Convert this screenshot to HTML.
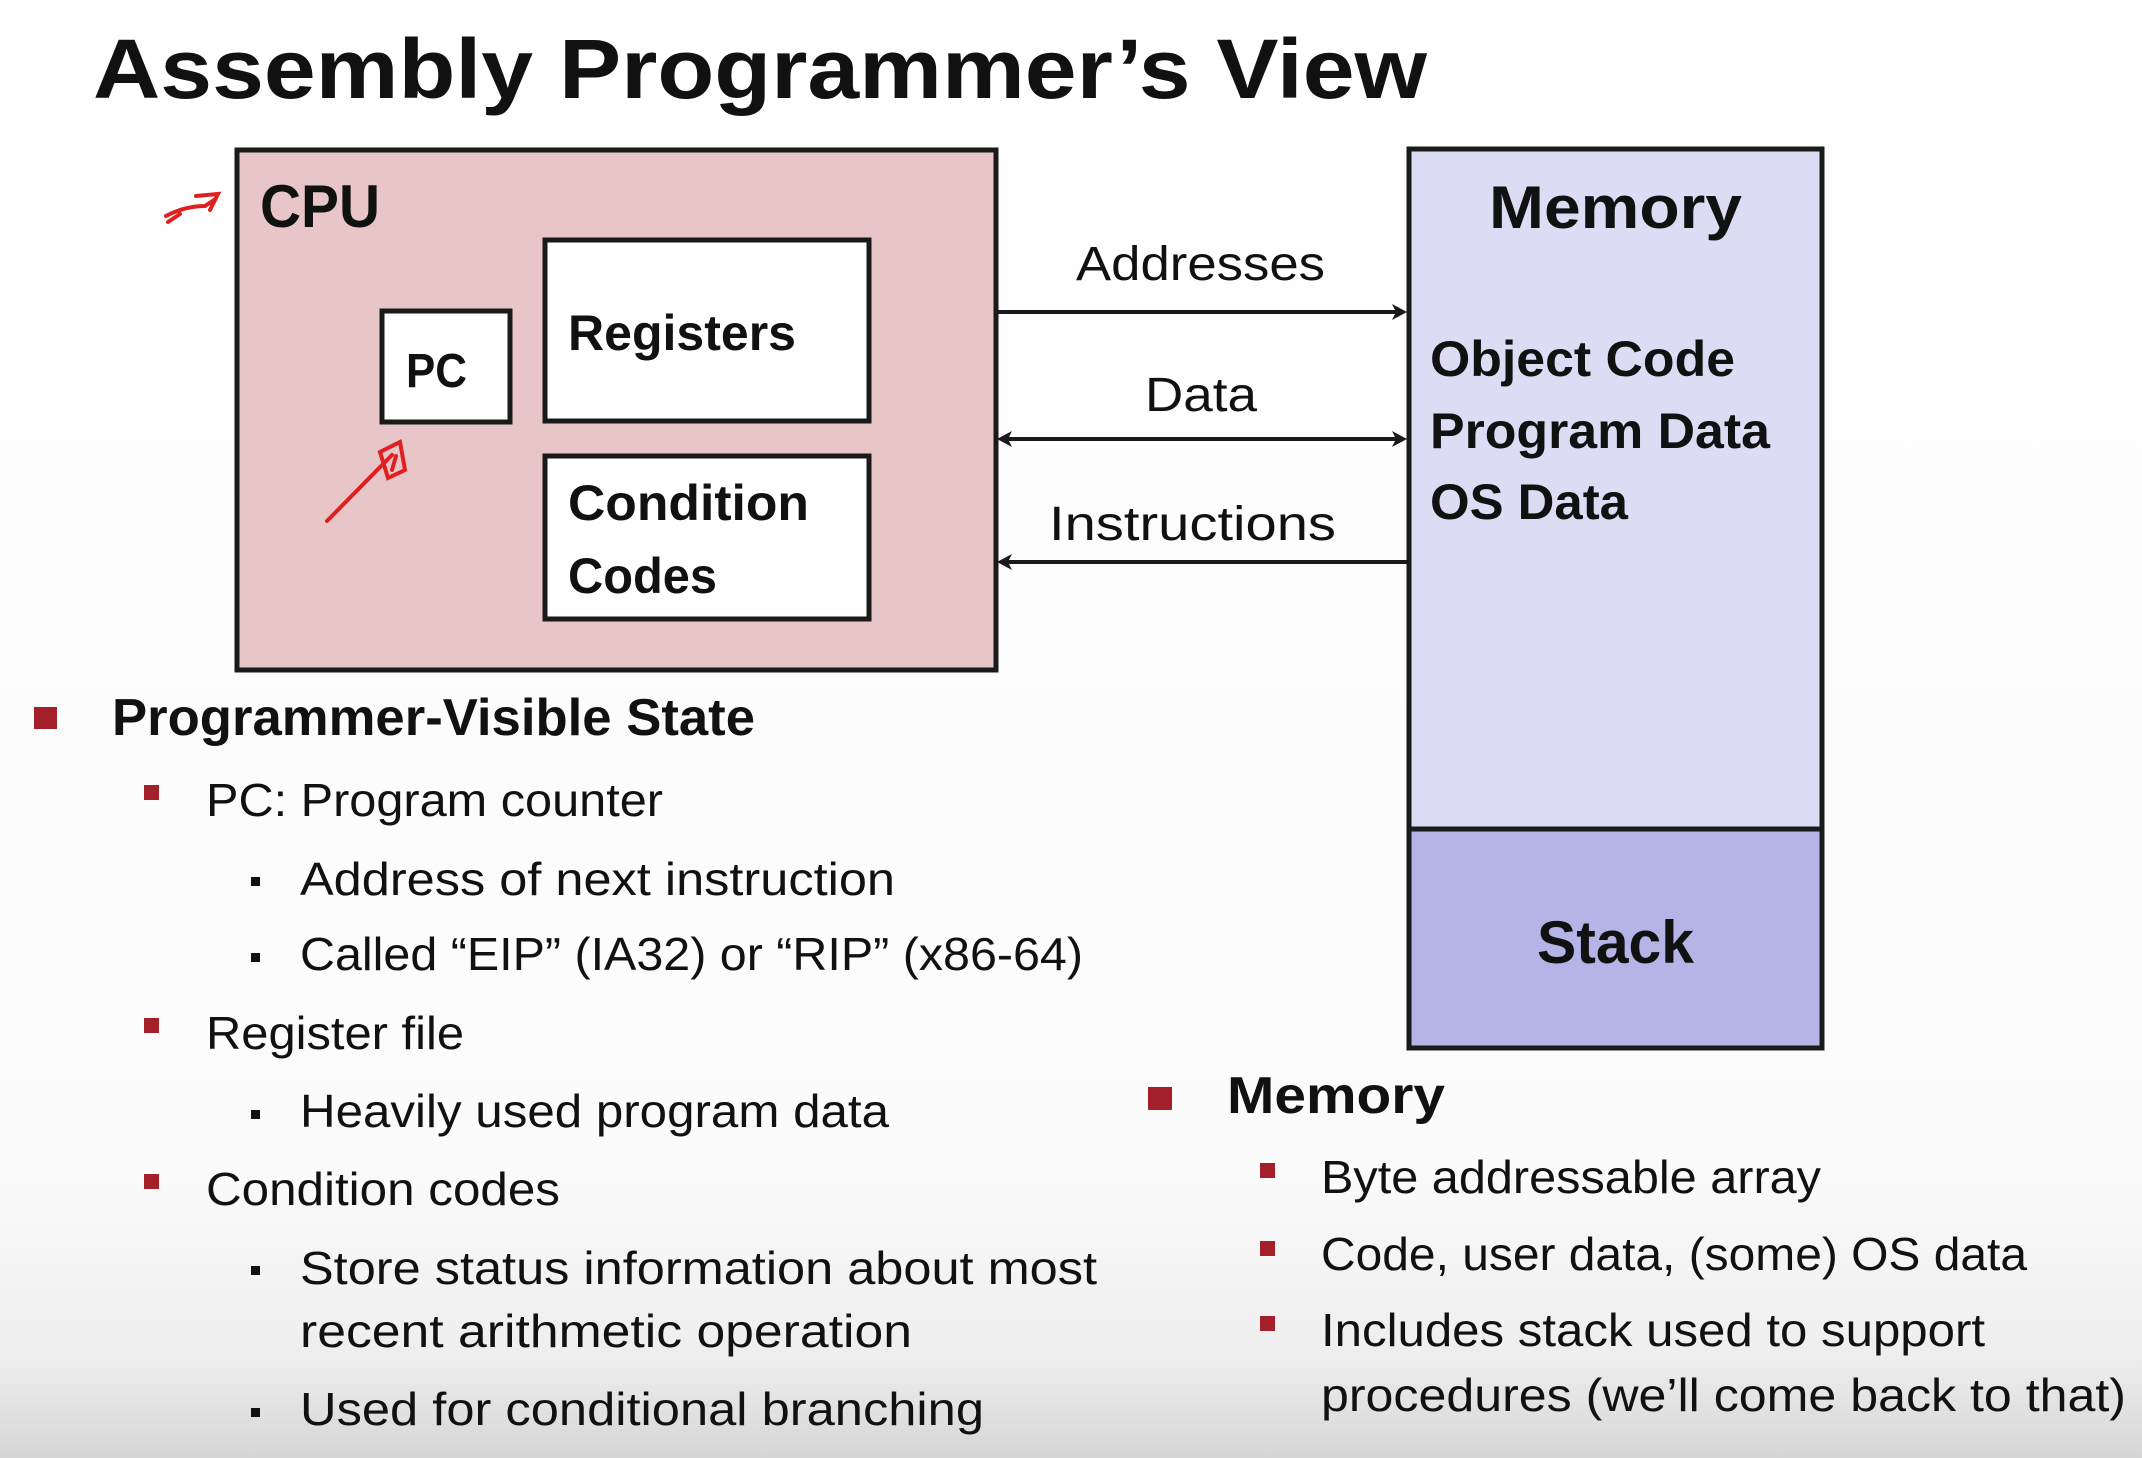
<!DOCTYPE html>
<html><head><meta charset="utf-8"><style>
html,body{margin:0;padding:0;width:2142px;height:1458px;overflow:hidden}
svg{display:block}
text{font-family:"Liberation Sans",sans-serif;fill:#111}
</style></head><body>
<svg width="2142" height="1458" viewBox="0 0 2142 1458">
<defs>
<linearGradient id="bg" x1="0" y1="0" x2="0" y2="1">
<stop offset="0" stop-color="#ffffff"/><stop offset="0.8" stop-color="#fbfbfb"/><stop offset="0.93" stop-color="#eeeeee"/><stop offset="1" stop-color="#d6d6d6"/>
</linearGradient>
</defs>
<rect width="2142" height="1458" fill="url(#bg)"/>
<text x="93" y="98" font-size="84" font-weight="bold" textLength="1334" lengthAdjust="spacingAndGlyphs">Assembly Programmer’s View</text>

<!-- CPU -->
<rect x="237" y="150" width="759" height="520" fill="#e8c5c6" stroke="#1a1a1a" stroke-width="5"/>
<text x="260" y="227" font-size="60" font-weight="bold" textLength="120" lengthAdjust="spacingAndGlyphs">CPU</text>
<rect x="382" y="311" width="128" height="111" fill="#fff" stroke="#1a1a1a" stroke-width="5"/>
<text x="406" y="387" font-size="48" font-weight="bold" textLength="61" lengthAdjust="spacingAndGlyphs">PC</text>
<rect x="545" y="240" width="324" height="181" fill="#fff" stroke="#1a1a1a" stroke-width="5"/>
<text x="568" y="350" font-size="50" font-weight="bold" textLength="228" lengthAdjust="spacingAndGlyphs">Registers</text>
<rect x="545" y="456" width="324" height="163" fill="#fff" stroke="#1a1a1a" stroke-width="5"/>
<text x="568" y="520" font-size="50" font-weight="bold" textLength="241" lengthAdjust="spacingAndGlyphs">Condition</text>
<text x="568" y="593" font-size="50" font-weight="bold" textLength="149" lengthAdjust="spacingAndGlyphs">Codes</text>

<!-- red annotations -->
<path d="M166 216 Q185 206 205 206 L214 200 M196 196 L218 194 L210 210 M168 222 L180 214" stroke="#e02020" stroke-width="4" fill="none" stroke-linecap="round"/>
<path d="M327 521 L392 455 M380 452 L400 442 L405 470 L388 478 Z M392 470 L396 456" stroke="#e02020" stroke-width="4" fill="none" stroke-linecap="round"/>

<!-- Memory -->
<rect x="1409" y="149" width="413" height="680" fill="#dcdcf5" stroke="#1a1a1a" stroke-width="5"/>
<rect x="1409" y="829" width="413" height="219" fill="#b4b4e6" stroke="#1a1a1a" stroke-width="5"/>
<text x="1489" y="228" font-size="60" font-weight="bold" textLength="253" lengthAdjust="spacingAndGlyphs">Memory</text>
<text x="1430" y="376" font-size="50" font-weight="bold" textLength="305" lengthAdjust="spacingAndGlyphs">Object Code</text>
<text x="1430" y="448" font-size="50" font-weight="bold" textLength="340" lengthAdjust="spacingAndGlyphs">Program Data</text>
<text x="1430" y="519" font-size="50" font-weight="bold" textLength="198" lengthAdjust="spacingAndGlyphs">OS Data</text>
<text x="1537" y="963" font-size="60" font-weight="bold" textLength="157" lengthAdjust="spacingAndGlyphs">Stack</text>

<!-- arrows -->
<g stroke="#1a1a1a" stroke-width="4" fill="none">
<line x1="997" y1="312" x2="1400" y2="312"/>
<line x1="1004" y1="439" x2="1400" y2="439"/>
<line x1="1004" y1="562" x2="1407" y2="562"/>
</g>
<g fill="#1a1a1a">
<path d="M1407 312 L1392 304 L1396 312 L1392 320 Z"/>
<path d="M1407 439 L1392 431 L1396 439 L1392 447 Z"/>
<path d="M997 439 L1012 431 L1008 439 L1012 447 Z"/>
<path d="M997 562 L1012 554 L1008 562 L1012 570 Z"/>
</g>
<text x="1076" y="280" font-size="48" textLength="249" lengthAdjust="spacingAndGlyphs">Addresses</text>
<text x="1145" y="411" font-size="48" textLength="112" lengthAdjust="spacingAndGlyphs">Data</text>
<text x="1049" y="540" font-size="48" textLength="287" lengthAdjust="spacingAndGlyphs">Instructions</text>

<!-- bullets left -->
<g fill="#a3202a">
<rect x="34" y="707" width="23" height="22"/>
<rect x="144" y="785" width="15" height="15"/>
<rect x="144" y="1018" width="15" height="15"/>
<rect x="144" y="1174" width="15" height="15"/>
<rect x="1148" y="1087" width="24" height="23"/>
<rect x="1260" y="1163" width="15" height="15"/>
<rect x="1260" y="1241" width="15" height="15"/>
<rect x="1260" y="1316" width="15" height="15"/>
</g>
<g fill="#111">
<rect x="251" y="877" width="9" height="9"/>
<rect x="251" y="953" width="9" height="9"/>
<rect x="251" y="1110" width="9" height="9"/>
<rect x="251" y="1266" width="9" height="9"/>
<rect x="251" y="1408" width="9" height="9"/>
</g>
<text x="112" y="735" font-size="52" font-weight="bold" textLength="643" lengthAdjust="spacingAndGlyphs">Programmer-Visible State</text>
<text x="206" y="816" font-size="46" textLength="457" lengthAdjust="spacingAndGlyphs">PC: Program counter</text>
<text x="300" y="895" font-size="46" textLength="595" lengthAdjust="spacingAndGlyphs">Address of next instruction</text>
<text x="300" y="970" font-size="46" textLength="783" lengthAdjust="spacingAndGlyphs">Called “EIP” (IA32) or “RIP” (x86-64)</text>
<text x="206" y="1049" font-size="46" textLength="258" lengthAdjust="spacingAndGlyphs">Register file</text>
<text x="300" y="1127" font-size="46" textLength="589" lengthAdjust="spacingAndGlyphs">Heavily used program data</text>
<text x="206" y="1205" font-size="46" textLength="354" lengthAdjust="spacingAndGlyphs">Condition codes</text>
<text x="300" y="1284" font-size="46" textLength="797" lengthAdjust="spacingAndGlyphs">Store status information about most</text>
<text x="300" y="1347" font-size="46" textLength="612" lengthAdjust="spacingAndGlyphs">recent arithmetic operation</text>
<text x="300" y="1425" font-size="46" textLength="684" lengthAdjust="spacingAndGlyphs">Used for conditional branching</text>

<text x="1227" y="1113" font-size="52" font-weight="bold" textLength="218" lengthAdjust="spacingAndGlyphs">Memory</text>
<text x="1321" y="1193" font-size="46" textLength="500" lengthAdjust="spacingAndGlyphs">Byte addressable array</text>
<text x="1321" y="1270" font-size="46" textLength="706" lengthAdjust="spacingAndGlyphs">Code, user data, (some) OS data</text>
<text x="1321" y="1346" font-size="46" textLength="664" lengthAdjust="spacingAndGlyphs">Includes stack used to support</text>
<text x="1321" y="1411" font-size="46" textLength="805" lengthAdjust="spacingAndGlyphs">procedures (we’ll come back to that)</text>
</svg>
</body></html>
